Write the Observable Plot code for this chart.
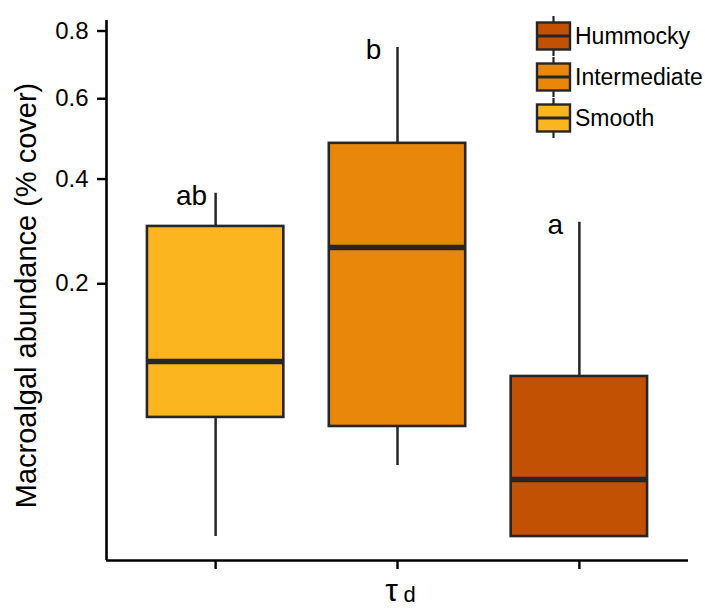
<!DOCTYPE html>
<html>
<head>
<meta charset="utf-8">
<script src="https://cdn.jsdelivr.net/npm/d3@7"></script>
<script src="https://cdn.jsdelivr.net/npm/@observablehq/plot@0.6"></script>
<style>
  html, body { margin: 0; padding: 0; background: #fff; }
  #chart { position: relative; width: 705px; height: 608px; overflow: hidden; }
  #chart svg { display: block; }
  #legend { position: absolute; left: 0; top: 0; }
</style>
</head>
<body>
<div id="chart"></div>
<script>
// ---- data ----
const groups   = ["Smooth", "Intermediate", "Hummocky"];
const positions = [1, 2, 3];
const colors   = ["#FBB51F", "#E8870A", "#C25104"];
const whiskerLow  = [0.0, 0.0158, 0.0];
const q1          = [0.0444, 0.0379, 0.0];
const medians     = [0.0959, 0.2616, 0.0102];
const q3          = [0.301, 0.484, 0.0802];
const whiskerHigh = [0.369, 0.749, 0.309];
const letters     = ["ab", "b", "a"];
const yTicks      = [0.2, 0.4, 0.6, 0.8];
const yTickLabels = ["0.2", "0.4", "0.6", "0.8"];
const legendOrder = ["Hummocky", "Intermediate", "Smooth"];
const yLabel = "Macroalgal abundance (% cover)";

const rows = groups.map((g, i) => ({
  group: g, pos: positions[i], color: colors[i],
  lo: whiskerLow[i], q1: q1[i], med: medians[i], q3: q3[i], hi: whiskerHigh[i],
  letter: letters[i]
}));
const tickRows = yTicks.map((v, i) => ({ v, label: yTickLabels[i] }));

const FONT = "'Liberation Sans', Arial, Helvetica, sans-serif";
const INK = "#262626";
const yDomain = [-0.0018, 0.8336];
const xDomain = [0.4, 3.6];
const halfW = 0.375;

const plot = Plot.plot({
  width: 705,
  height: 608,
  marginLeft: 106,
  marginRight: 17,
  marginTop: 20,
  marginBottom: 48,
  style: { fontFamily: FONT, fontSize: "20px", background: "#fff", color: "#000" },
  x: { type: "linear", domain: xDomain },
  y: { type: "sqrt", domain: yDomain },
  marks: [
    // axis lines
    Plot.ruleX([xDomain[0]], { stroke: "#000", strokeWidth: 2.6 }),
    Plot.ruleY([yDomain[0]], { stroke: "#000", strokeWidth: 2.6 }),
    Plot.axisY(yTicks, { tickSize: 9, text: null, strokeWidth: 2.4, stroke: "#000", label: null }),
    Plot.text(tickRows, {
      y: "v", text: "label", frameAnchor: "left", dx: -18, textAnchor: "end",
      lineAnchor: "middle", fontSize: 24, fill: "#000"
    }),
    Plot.axisX(positions, {
      tickFormat: () => "", tickSize: 9, strokeWidth: 2.4, stroke: "#000", label: null
    }),
    // y axis title
    Plot.text([yLabel], {
      frameAnchor: "left", dx: -80, dy: 5, rotate: -90, fontSize: 29, fill: "#000",
      textAnchor: "middle", lineAnchor: "middle"
    }),
    // x axis title (tau with subscript d)
    Plot.text(["τ"], { x: [2], frameAnchor: "bottom", dy: 30, dx: -6, fontSize: 32, fill: "#000", lineAnchor: "middle", textAnchor: "middle" }),
    Plot.text(["d"], { x: [2], frameAnchor: "bottom", dy: 34, dx: 12, fontSize: 22, fill: "#000", lineAnchor: "middle", textAnchor: "middle" }),
    // whiskers
    Plot.ruleX(rows, { x: "pos", y1: "lo", y2: "hi", stroke: INK, strokeWidth: 2.5 }),
    // boxes
    Plot.rectY(rows, {
      x1: (d) => d.pos - halfW, x2: (d) => d.pos + halfW, y1: "q1", y2: "q3",
      fill: "color", stroke: INK, strokeWidth: 2.6
    }),
    // medians
    Plot.ruleY(rows, {
      x1: (d) => d.pos - halfW, x2: (d) => d.pos + halfW, y: "med",
      stroke: INK, strokeWidth: 5.5
    }),
    // significance letters
    Plot.text(rows, {
      x: "pos", y: "hi", text: "letter", dx: -24, dy: 3, fontSize: 28, fill: "#000",
      textAnchor: "middle", lineAnchor: "middle"
    })
  ]
});

const chart = document.getElementById("chart");
chart.appendChild(plot);

// ---- legend (boxplot glyph keys) ----
const lg = d3.select(chart).append("svg")
  .attr("id", "legend").attr("width", 705).attr("height", 150);
const keyX = 537, keyW = 33, keyH = 27, rowGap = 41, firstY = 36;
legendOrder.forEach((name, i) => {
  const cy = firstY + i * rowGap;
  const col = colors[groups.indexOf(name)];
  const g = lg.append("g");
  g.append("line").attr("x1", keyX + keyW / 2).attr("x2", keyX + keyW / 2)
    .attr("y1", cy - 20).attr("y2", cy + 20).attr("stroke", INK).attr("stroke-width", 2.2);
  g.append("rect").attr("x", keyX).attr("y", cy - keyH / 2).attr("width", keyW).attr("height", keyH)
    .attr("fill", col).attr("stroke", INK).attr("stroke-width", 2.4);
  g.append("line").attr("x1", keyX).attr("x2", keyX + keyW).attr("y1", cy).attr("y2", cy)
    .attr("stroke", INK).attr("stroke-width", 3);
  g.append("text").attr("x", keyX + keyW + 5).attr("y", cy).attr("dy", "0.35em")
    .attr("font-family", FONT).attr("font-size", 23).attr("fill", "#000").text(name);
});
</script>
</body>
</html>
